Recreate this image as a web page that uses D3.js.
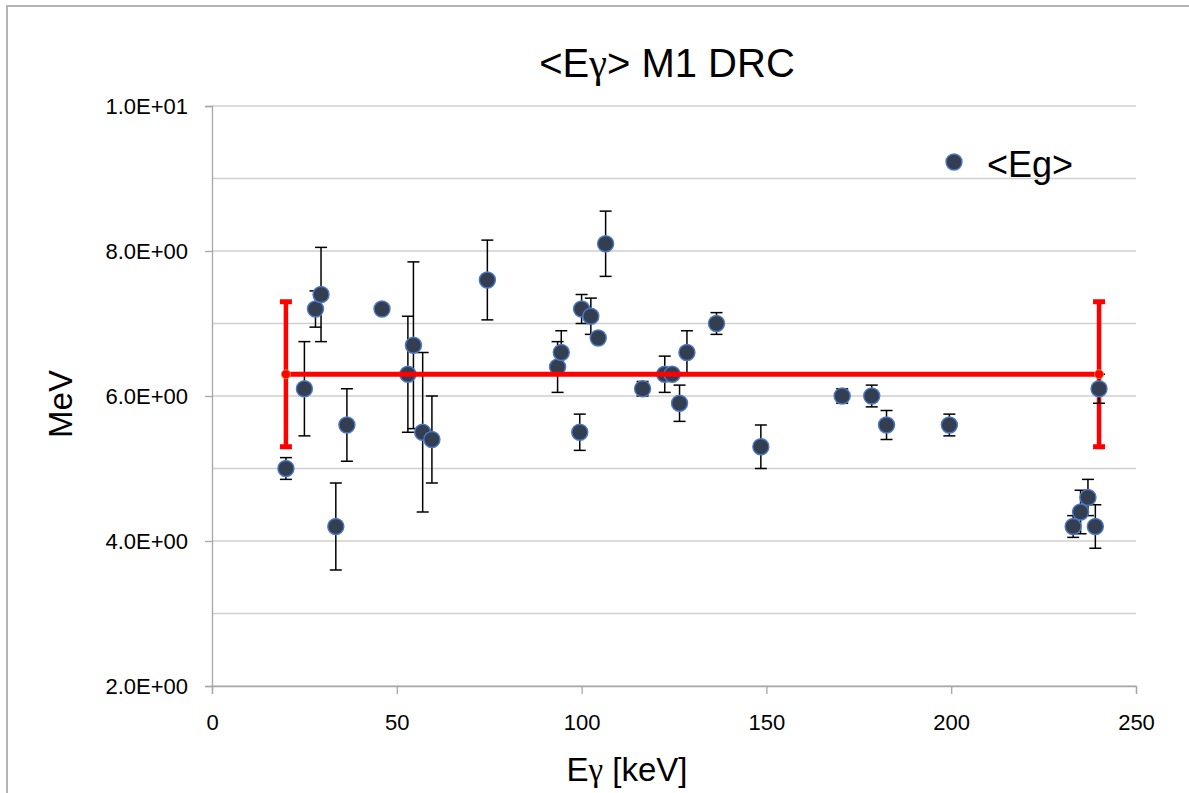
<!DOCTYPE html>
<html>
<head>
<meta charset="utf-8">
<script src="https://cdn.jsdelivr.net/npm/d3@7/dist/d3.min.js"></script>
<style>
  html, body { margin: 0; padding: 0; background: #fff; }
  svg { display: block; }
  text { font-family: "Liberation Sans", Arial, sans-serif; fill: #000; }
</style>
</head>
<body>
<svg id="chart" width="1189" height="793"></svg>
<script>
// Mean gamma energy <Eg> per transition energy, with uncertainties
const gammaEnergy = [20, 25, 28, 29.5, 33.5, 36.5, 46, 53, 54.5, 57, 59.5, 74.5,
  93.5, 94.5, 99.5, 100, 102.5, 104.5, 106.5, 116.5, 122.5, 124.5, 126.5, 128.5,
  136.5, 148.5, 170.5, 178.5, 182.5, 199.5, 233, 235, 237, 239, 240];
const meanEg = [5.0, 6.1, 7.2, 7.4, 4.2, 5.6, 7.2, 6.3, 6.7, 5.5, 5.4, 7.6,
  6.4, 6.6, 5.5, 7.2, 7.1, 6.8, 8.1, 6.1, 6.3, 6.3, 5.9, 6.6,
  7.0, 5.3, 6.0, 6.0, 5.6, 5.6, 4.2, 4.4, 4.6, 4.2, 6.1];
const meanEgErr = [0.15, 0.65, 0.25, 0.65, 0.6, 0.5, 0, 0.8, 1.15, 1.1, 0.6, 0.55,
  0.35, 0.3, 0.25, 0.2, 0.25, 0.05, 0.45, 0.1, 0.25, 0.05, 0.25, 0.3,
  0.15, 0.3, 0.1, 0.15, 0.2, 0.15, 0.15, 0.3, 0.25, 0.3, 0.2];

// Average level with its band
const avgEnergy = [20, 240];
const avgEg = [6.3, 6.3];
const avgErr = [1.0, 1.0];

// Axis ticks
const xTicks = [0, 50, 100, 150, 200, 250];
const yTicks = [2, 4, 6, 8, 10];
const yTickLabels = ["2.0E+00", "4.0E+00", "6.0E+00", "8.0E+00", "1.0E+01"];
const yGrid = [2, 3, 4, 5, 6, 7, 8, 9, 10];

const svg = d3.select("#chart");
const W = 1189, H = 793;
const plot = { left: 212, right: 1136, top: 106, bottom: 686 };

const x = d3.scaleLinear().domain([0, 250]).range([plot.left, plot.right]);
const y = d3.scaleLinear().domain([2, 10]).range([plot.bottom, plot.top]);

// outer frame (left and top edges)
svg.append("path")
  .attr("d", `M7,${H} L7,6 L${W},6`)
  .attr("fill", "none").attr("stroke", "#b4b4b4").attr("stroke-width", 2);

// horizontal gridlines
svg.append("g").selectAll("line").data(yGrid).join("line")
  .attr("x1", plot.left).attr("x2", plot.right)
  .attr("y1", d => y(d)).attr("y2", d => y(d))
  .attr("stroke", "#cfcfcf").attr("stroke-width", 1.3);

// y axis
const yAxis = d3.axisLeft(y).tickValues(yTicks)
  .tickFormat((d, i) => yTickLabels[i]).tickSize(7).tickPadding(17);
const gy = svg.append("g").attr("transform", `translate(${plot.left},0)`).call(yAxis);
gy.select(".domain").attr("stroke", "#a6a6a6").attr("stroke-width", 1.3);
gy.selectAll(".tick line").attr("stroke", "#a6a6a6").attr("stroke-width", 1.3);
gy.selectAll(".tick text").attr("font-size", 22).attr("fill", "#000")
  .attr("font-family", "Liberation Sans, Arial, sans-serif");

// x axis
const xAxis = d3.axisBottom(x).tickValues(xTicks).tickSize(8).tickPadding(20);
const gx = svg.append("g").attr("transform", `translate(0,${plot.bottom})`).call(xAxis);
gx.select(".domain").attr("stroke", "#a6a6a6").attr("stroke-width", 1.3);
gx.selectAll(".tick line").attr("stroke", "#a6a6a6").attr("stroke-width", 1.3);
gx.selectAll(".tick text").attr("font-size", 22).attr("fill", "#000")
  .attr("font-family", "Liberation Sans, Arial, sans-serif");

// band of the average level (drawn beneath the data points)
const avg = avgEnergy.map((e, i) => ({ e, v: avgEg[i], err: avgErr[i] }));
const avgBars = svg.append("g").selectAll("g").data(avg).join("g");
avgBars.append("line")
  .attr("x1", d => x(d.e)).attr("x2", d => x(d.e))
  .attr("y1", d => y(d.v + d.err)).attr("y2", d => y(d.v - d.err))
  .attr("stroke", "#ff0000").attr("stroke-width", 4.5);
avgBars.selectAll("line.cap").data(d => [d.v + d.err, d.v - d.err].map(v => ({ e: d.e, v })))
  .join("line").attr("class", "cap")
  .attr("x1", d => x(d.e) - 6).attr("x2", d => x(d.e) + 6)
  .attr("y1", d => y(d.v)).attr("y2", d => y(d.v))
  .attr("stroke", "#ff0000").attr("stroke-width", 5);

// error bars of <Eg>
const pts = gammaEnergy.map((e, i) => ({ e, v: meanEg[i], err: meanEgErr[i] }));
const eb = svg.append("g").selectAll("g").data(pts.filter(d => d.err > 0)).join("g")
  .attr("stroke", "#000").attr("stroke-width", 1.5);
eb.append("line")
  .attr("x1", d => x(d.e)).attr("x2", d => x(d.e))
  .attr("y1", d => y(d.v + d.err)).attr("y2", d => y(d.v - d.err));
eb.append("line")
  .attr("x1", d => x(d.e) - 6).attr("x2", d => x(d.e) + 6)
  .attr("y1", d => y(d.v + d.err)).attr("y2", d => y(d.v + d.err));
eb.append("line")
  .attr("x1", d => x(d.e) - 6).attr("x2", d => x(d.e) + 6)
  .attr("y1", d => y(d.v - d.err)).attr("y2", d => y(d.v - d.err));

// <Eg> markers
svg.append("g").selectAll("circle").data(pts).join("circle")
  .attr("cx", d => x(d.e)).attr("cy", d => y(d.v)).attr("r", 8)
  .attr("fill", "#333f50").attr("stroke", "#4a78c8").attr("stroke-width", 1.4);

// average level line and its end markers
svg.append("path").datum(avg)
  .attr("d", d3.line().x(d => x(d.e)).y(d => y(d.v)))
  .attr("fill", "none").attr("stroke", "#ff0000").attr("stroke-width", 5);
svg.append("g").selectAll("circle").data(avg).join("circle")
  .attr("cx", d => x(d.e)).attr("cy", d => y(d.v)).attr("r", 4.5)
  .attr("fill", "#ff0000").attr("stroke", "#f08030").attr("stroke-width", 1);

// text with a serif Greek gamma, as in the original typesetting
function gammaText(sel, parts) {
  parts.forEach(p => {
    const t = sel.append("tspan").text(p);
    if (p === "γ") t.attr("font-family", "Liberation Serif, DejaVu Serif, serif");
  });
  return sel;
}

// title
gammaText(svg.append("text").attr("x", 667).attr("y", 77).attr("text-anchor", "middle")
  .attr("font-size", 40), ["<E", "γ", "> M1 DRC"]);

// axis titles
gammaText(svg.append("text").attr("x", 627).attr("y", 781).attr("text-anchor", "middle")
  .attr("font-size", 33), ["E", "γ", " [keV]"]);
svg.append("text").attr("transform", "translate(72,404) rotate(-90)")
  .attr("text-anchor", "middle").attr("font-size", 33).text("MeV");

// legend
svg.append("circle").attr("cx", 954).attr("cy", 162).attr("r", 8)
  .attr("fill", "#333f50").attr("stroke", "#4a78c8").attr("stroke-width", 1.4);
svg.append("text").attr("x", 987).attr("y", 177).attr("font-size", 36).text("<Eg>");
</script>
</body>
</html>
